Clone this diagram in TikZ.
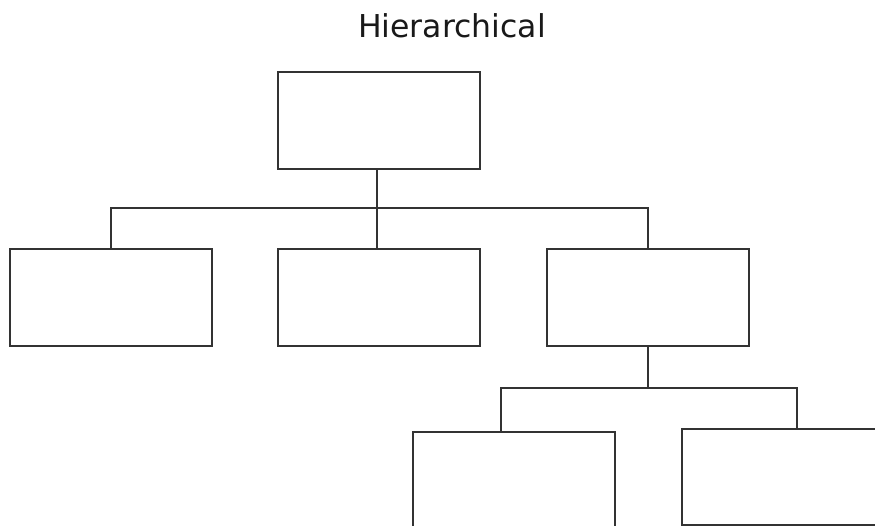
\documentclass[tikz,border=0pt]{standalone}
\usepackage{fontspec}
\setmainfont{DejaVu Sans}
\usetikzlibrary{calc}
\begin{document}
\begin{tikzpicture}[x=1pt,y=-1pt,
  box/.style={draw=black!80,line width=1.4pt,fill=white,inner sep=0pt,outer sep=0pt,
    minimum width=202pt,minimum height=97pt,anchor=north west},
  link/.style={draw=black!80,line width=1.4pt}]
\useasboundingbox (0,0) rectangle (875,526);
\clip (0,0) rectangle (875,526);
\node[anchor=base,font=\fontsize{31.5}{38}\selectfont,text=black!90] (title) at (452,37.3) {Hierarchical};
\node[box] (root) at (278,72) {};
\node[box] (a) at (10,249) {};
\node[box] (b) at (278,249) {};
\node[box] (c) at (547,249) {};
\node[box] (d) at (413,432) {};
\node[box,minimum height=96pt] (e) at (682,429) {};
\coordinate (bus1) at ($(root.south)+(-2,39)$);
\coordinate (bus2) at ($(c.south)+(0,42)$);
\coordinate (dtop) at ($(d.north west)+(88,0)$);
\coordinate (etop) at ($(e.north west)+(115,0)$);
\draw[link] (root.south -| bus1) -- (bus1);
\draw[link] (a.north) |- (bus1) -| (c.north);
\draw[link] (bus1) -- (bus1 |- b.north);
\draw[link] (c.south) -- (bus2);
\draw[link] (dtop) |- (bus2) -| (etop);
\end{tikzpicture}
\end{document}
